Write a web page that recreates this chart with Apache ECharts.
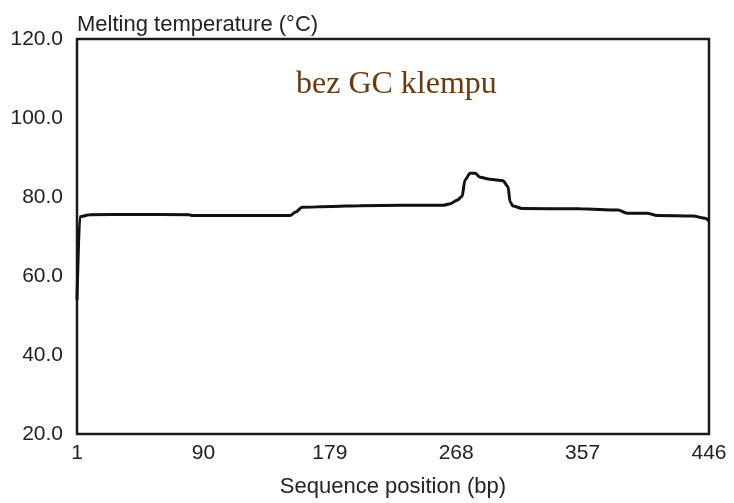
<!DOCTYPE html>
<html>
<head>
<meta charset="utf-8">
<script src="https://cdn.jsdelivr.net/npm/echarts@6/dist/echarts.min.js"></script>
<style>
  html, body { margin: 0; padding: 0; background: #fff; }
  #chart { width: 734px; height: 503px; }
</style>
</head>
<body>
<div id="chart"></div>
<script>
  // sequence position (bp) and melting temperature (°C)
  const positions = [1, 3, 10, 40, 80, 82, 120, 151, 155, 159.5, 180, 200, 230, 258.7, 264, 268.6, 272.1, 274.2, 277.8, 281.3, 284.8, 291.8, 301, 304.5, 305.9, 308, 314.4, 355.2, 382, 388.3, 402.4, 409.5, 434.8, 443.3, 446]
  const meltTemp = [54.0, 75.0, 75.5, 75.6, 75.5, 75.3, 75.3, 75.3, 76.2, 77.4, 77.6, 77.8, 77.9, 77.9, 78.3, 79.2, 80.1, 84.3, 86.0, 86.0, 85.0, 84.5, 84.1, 82.6, 78.8, 77.7, 77.1, 77.0, 76.7, 75.9, 75.9, 75.3, 75.2, 74.6, 73.9]
  const xTicks = [1, 90, 179, 268, 357, 446]

  const chart = echarts.init(document.getElementById('chart'))
  const font = 'Liberation Sans, Arial, sans-serif'

  chart.setOption({
    animation: false,
    grid: {
      left: 77, right: 25, top: 39, bottom: 69,
      show: true, borderColor: '#1a1a1a', borderWidth: 2.5, backgroundColor: '#fff'
    },
    graphic: [{
      type: 'text',
      left: 296, top: 69,
      style: { text: 'bez GC klempu', fill: '#6b3a0c', font: '32px "Liberation Serif", "Times New Roman", serif' }
    }],
    xAxis: {
      type: 'value',
      min: 1, max: 446, interval: 89,
      name: 'Sequence position (bp)',
      nameLocation: 'middle', nameGap: 42,
      nameTextStyle: { fontSize: 22, color: '#222', fontFamily: font },
      axisLine: { show: false }, axisTick: { show: false }, splitLine: { show: false },
      axisLabel: {
        margin: 9, fontSize: 21, color: '#222', fontFamily: font,
        customValues: xTicks
      }
    },
    yAxis: {
      type: 'value',
      min: 20, max: 120, interval: 20,
      name: 'Melting temperature (°C)',
      nameLocation: 'end', nameGap: 3,
      nameTextStyle: { fontSize: 22, color: '#222', fontFamily: font, align: 'left', verticalAlign: 'bottom' },
      axisLine: { show: false }, axisTick: { show: false }, splitLine: { show: false },
      axisLabel: {
        margin: 14, fontSize: 21, color: '#222', fontFamily: font,
        formatter: v => v.toFixed(1)
      }
    },
    series: [{
      type: 'line',
      data: positions.map((p, i) => [p, meltTemp[i]]),
      showSymbol: false,
      smooth: 0.3,
      smoothMonotone: 'x',
      lineStyle: { color: '#111', width: 3 }
    }]
  })
</script>
</body>
</html>
